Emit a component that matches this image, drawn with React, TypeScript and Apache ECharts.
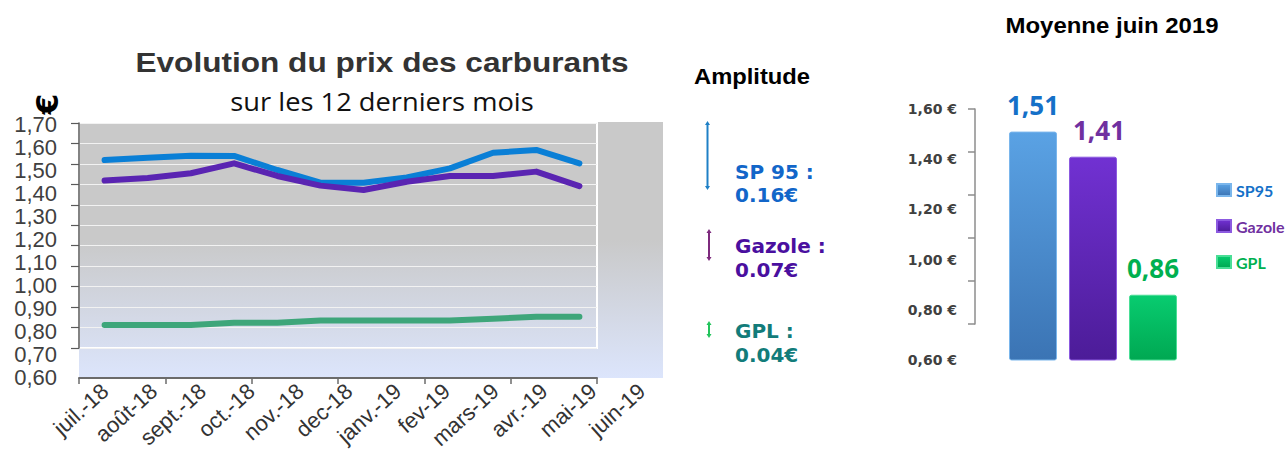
import React, { useEffect, useRef } from "react";
import * as echarts from "echarts";

// ---- data ----
const months = ["juil.-18", "août-18", "sept.-18", "oct.-18", "nov.-18", "dec-18", "janv.-19", "fev-19", "mars-19", "avr.-19", "mai-19", "juin-19"];
const sp95 = [1.543, 1.553, 1.562, 1.561, 1.5, 1.445, 1.445, 1.468, 1.507, 1.575, 1.587, 1.529];
const gazole = [1.454, 1.465, 1.486, 1.529, 1.474, 1.432, 1.413, 1.449, 1.474, 1.474, 1.493, 1.43];
const gpl = [0.826, 0.826, 0.826, 0.836, 0.836, 0.846, 0.846, 0.846, 0.846, 0.853, 0.862, 0.862];

const barNames = ["SP95", "Gazole", "GPL"];
const barValues = [1.51, 1.41, 0.86];

const amplitudeNames = ["SP 95", "Gazole", "GPL"];
const amplitudes = [0.16, 0.07, 0.04];

const lineColors = ["#0a7fd6", "#5a24b2", "#3ea67a"];
const textColors = ["#1570c8", "#7030a0", "#00b050"];
const amplitudeTextColors = ["#1266c9", "#4a0f9f", "#127c7a"];
const arrowColors = ["#1f80c6", "#7d2a7d", "#22c45c"];

const comma = (v: number) => v.toFixed(2).replace(".", ",");

function arrow(x: number, y1: number, y2: number, color: string) {
  return {
    type: "group",
    children: [
      { type: "line", shape: { x1: x, y1: y1 + 2, x2: x, y2: y2 - 2 }, style: { stroke: color, lineWidth: 2 } },
      { type: "polygon", shape: { points: [[x - 2.5, y1 + 4], [x, y1], [x + 2.5, y1 + 4]] }, style: { fill: color } },
      { type: "polygon", shape: { points: [[x - 2.5, y2 - 4], [x, y2], [x + 2.5, y2 - 4]] }, style: { fill: color } },
    ],
  };
}

const barGradients = [
  ["#5aa2e4", "#3b74b4", "#7ab6ec"],
  ["#7131d2", "#4c1c98", "#8c5ae0"],
  ["#08cc70", "#00a852", "#4ade96"],
];

export default function App() {
  const ref = useRef<HTMLDivElement>(null);
  useEffect(() => {
    if (!ref.current) return;
    const chart = echarts.init(ref.current, undefined, { renderer: "svg" });

    const lineSeries = [sp95, gazole, gpl].map((d, i) => ({
      type: "line",
      name: ["SP95 évolution", "Gazole évolution", "GPL évolution"][i],
      xAxisIndex: 1,
      yAxisIndex: 1,
      data: d,
      symbol: "none",
      showSymbol: false,
      z: 3 + i,
      lineStyle: { color: lineColors[i], width: 6, cap: "round", join: "round" },
      itemStyle: { color: lineColors[i] },
    }));

    const barSeries = barNames.map((n, i) => ({
      type: "bar",
      name: n,
      xAxisIndex: 3,
      yAxisIndex: 3,
      data: [barValues[i]],
      barWidth: 48,
      barGap: "25%",
      itemStyle: {
        color: new echarts.graphic.LinearGradient(0, 0, 0, 1, [
          { offset: 0, color: barGradients[i][0] },
          { offset: 1, color: barGradients[i][1] },
        ]),
        borderColor: barGradients[i][2],
        borderWidth: 1,
        borderRadius: 2,
      },
      label: {
        show: true,
        position: "top",
        distance: 12,
        offset: i === 1 ? [6, 0] : [0, 0],
        formatter: (p: any) => comma(p.value),
        fontFamily: "Open Sans",
        fontWeight: "bold",
        fontSize: 26,
        lineHeight: 30,
        color: textColors[i],
      },
    }));

    const amplitudeGraphics: any[] = [];
    const textYs = [[172, 195], [246, 270], [331, 355]];
    const arrowYs = [[121, 190], [229, 261], [321, 338]];
    const arrowXs = [707.5, 709, 709];
    amplitudes.forEach((a, i) => {
      amplitudeGraphics.push(arrow(arrowXs[i], arrowYs[i][0], arrowYs[i][1], arrowColors[i]));
      amplitudeGraphics.push({
        type: "text",
        x: 735,
        y: textYs[i][0],
        style: { text: amplitudeNames[i] + " :", fontFamily: "DejaVu Sans", fontWeight: "bold", fontSize: 20, fill: amplitudeTextColors[i], align: "left", verticalAlign: "middle" },
      });
      amplitudeGraphics.push({
        type: "text",
        x: 735,
        y: textYs[i][1],
        style: { text: a.toFixed(2) + "€", fontFamily: "DejaVu Sans", fontWeight: "bold", fontSize: 20, fill: amplitudeTextColors[i], align: "left", verticalAlign: "middle" },
      });
    });

    chart.setOption({
      animation: false,
      backgroundColor: "#ffffff",
      graphic: [
        {
          type: "rect",
          z: -5,
          shape: { x: 79, y: 122, width: 584, height: 256 },
          style: {
            fill: new echarts.graphic.LinearGradient(0, 0, 0, 1, [
              { offset: 0, color: "#c9c9c9" },
              { offset: 0.46, color: "#c9c9c9" },
              { offset: 1, color: "#dce5fc" },
            ]),
          },
        },
        {
          type: "rect",
          z: -4,
          shape: { x: 79, y: 123, width: 518, height: 225 },
          style: { fill: "none", stroke: "#ffffff", lineWidth: 2 },
        },
        {
          type: "text",
          x: 382,
          y: 62,
          scaleX: 1.17,
          style: { text: "Evolution du prix des carburants", fontFamily: "Liberation Sans", fontWeight: "bold", fontSize: 27, fill: "#333333", align: "center", verticalAlign: "middle" },
        },
        {
          type: "text",
          x: 382,
          y: 101,
          scaleX: 1.05,
          style: { text: "sur les 12 derniers mois", fontFamily: "Open Sans", fontSize: 26, fill: "#111111", align: "center", verticalAlign: "middle" },
        },
        {
          type: "text",
          x: 47,
          y: 104,
          rotation: Math.PI / 2,
          style: { text: "€", fontFamily: "DejaVu Sans", fontWeight: "bold", fontSize: 30, fill: "#000000", align: "center", verticalAlign: "middle" },
        },
        {
          type: "text",
          x: 694,
          y: 76,
          scaleX: 1.08,
          style: { text: "Amplitude", fontFamily: "Liberation Sans", fontWeight: "bold", fontSize: 22, fill: "#000000", align: "left", verticalAlign: "middle" },
        },
        {
          type: "text",
          x: 1112,
          y: 25,
          scaleX: 1.09,
          style: { text: "Moyenne juin 2019", fontFamily: "Liberation Sans", fontWeight: "bold", fontSize: 22, fill: "#000000", align: "center", verticalAlign: "middle" },
        },
        ...amplitudeGraphics,
      ],
      legend: {
        orient: "vertical",
        left: 1211,
        top: 177,
        itemWidth: 14,
        itemHeight: 12,
        itemGap: 20,
        icon: "rect",
        data: barNames.map((n, i) => ({ name: n, textStyle: { color: textColors[i] } })),
        textStyle: { fontFamily: "Lato", fontWeight: "bold", fontSize: 16, lineHeight: 16 },
      },
      grid: [
        { left: 79, top: 123, width: 518, height: 225 },
        { left: 83, top: 124, width: 518, height: 253 },
        { left: 80.6, top: 124, width: 585.6, height: 254 },
        { left: 993, top: 109, width: 200, height: 251 },
        { left: 975, top: 109, width: 10, height: 215 },
      ],
      xAxis: [
        {
          gridIndex: 0,
          type: "category",
          data: months,
          offset: 30,
          axisLine: { show: true, lineStyle: { color: "#6b6b6b", width: 2 } },
          axisTick: { show: true, length: 6, lineStyle: { color: "#6b6b6b", width: 1.5 } },
          axisLabel: { show: false },
          splitLine: { show: false },
        },
        { gridIndex: 1, type: "category", data: months, show: false },
        {
          gridIndex: 2,
          type: "category",
          data: months,
          axisLine: { show: false },
          axisTick: { show: false },
          splitLine: { show: false },
          axisLabel: { interval: 0, rotate: 42, margin: 30, fontSize: 22, fontFamily: "Liberation Sans", color: "#333333" },
        },
        { gridIndex: 3, type: "category", data: ["juin 2019"], show: false },
        { gridIndex: 4, type: "category", data: ["juin 2019"], show: false },
      ],
      yAxis: [
        {
          gridIndex: 0,
          type: "value",
          min: 0.6,
          max: 1.7,
          interval: 0.1,
          axisLine: { show: true, lineStyle: { color: "#5a5a5a", width: 1.5 } },
          axisTick: { show: true, length: 8, lineStyle: { color: "#5a5a5a", width: 1.2 } },
          axisLabel: { show: false },
          splitLine: { show: true, lineStyle: { color: "#f2f2f2", width: 1 } },
        },
        {
          gridIndex: 1,
          type: "value",
          min: 0.6,
          max: 1.7,
          interval: 0.1,
          axisLine: { show: false },
          axisTick: { show: false },
          splitLine: { show: false },
          axisLabel: { margin: 26, fontSize: 22, fontFamily: "Liberation Sans", color: "#404040", formatter: (v: number) => comma(v) },
        },
        { gridIndex: 2, type: "value", show: false },
        {
          gridIndex: 3,
          type: "value",
          min: 0.6,
          max: 1.6,
          interval: 0.2,
          axisLine: { show: false },
          axisTick: { show: false },
          splitLine: { show: false },
          axisLabel: { margin: 36, fontSize: 14, fontWeight: "bold", fontFamily: "DejaVu Sans", color: "#404040", formatter: (v: number) => comma(v) + " €" },
        },
        {
          gridIndex: 4,
          type: "value",
          min: 0.6,
          max: 1.6,
          interval: 0.2,
          axisLine: { show: true, lineStyle: { color: "#8c8c8c", width: 1.5 } },
          axisTick: { show: true, length: 7, lineStyle: { color: "#8c8c8c", width: 1.5 } },
          axisLabel: { show: false },
          splitLine: { show: false },
        },
      ],
      series: [...lineSeries, ...barSeries],
    });
    return () => chart.dispose();
  }, []);
  return <div ref={ref} style={{ position: "fixed", left: 0, top: 0, width: 1288, height: 452, background: "#fff" }} />;
}
